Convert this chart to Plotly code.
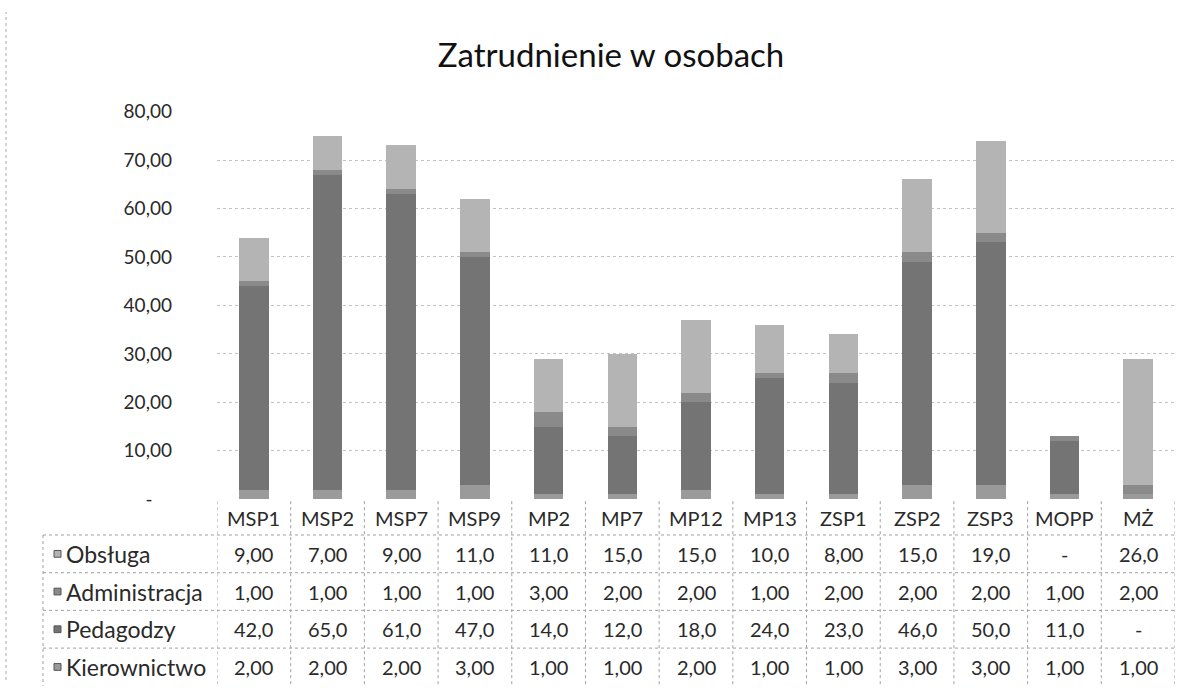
import plotly.graph_objects as go

# ---- data ----
categories = ["MSP1", "MSP2", "MSP7", "MSP9", "MP2", "MP7", "MP12", "MP13",
              "ZSP1", "ZSP2", "ZSP3", "MOPP", "MŻ"]
kierownictwo = [2, 2, 2, 3, 1, 1, 2, 1, 1, 3, 3, 1, 1]
pedagodzy = [42, 65, 61, 47, 14, 12, 18, 24, 23, 46, 50, 11, 0]
administracja = [1, 1, 1, 1, 3, 2, 2, 1, 2, 2, 2, 1, 2]
obsluga = [9, 7, 9, 11, 11, 15, 15, 10, 8, 15, 19, 0, 26]
y_ticks = [0, 10, 20, 30, 40, 50, 60, 70, 80]
title_text = "Zatrudnienie w osobach"

COL_K = "#9a9a9a"
COL_P = "#747474"
COL_A = "#8a8a8a"
COL_O = "#b4b4b4"

# stacking order bottom -> top
series = [
    ("Kierownictwo", kierownictwo, COL_K),
    ("Pedagodzy", pedagodzy, COL_P),
    ("Administracja", administracja, COL_A),
    ("Obsługa", obsluga, COL_O),
]

W, H = 1192, 691
FONT = "Lato"
TXT = "#2a2a2a"


def px_x(p):
    return p / W


def px_y(p):
    return 1 - p / H


def fmt(v):
    if v == 0:
        return "-"
    s = f"{v:.1f}" if v >= 10 else f"{v:.2f}"
    return s.replace(".", ",")


def ytick(v):
    return "-\u00a0\u00a0\u00a0\u00a0" if v == 0 else f"{v:.2f}".replace(".", ",")


fig = go.Figure()
for name, vals, col in series:
    fig.add_trace(go.Bar(
        x=categories, y=vals, name=name,
        marker=dict(color=col, line=dict(width=0)),
        showlegend=False,
    ))

plot_left, plot_right = 217, 1175
y0_px, y80_px = 504, 103

fig.update_layout(
    width=W, height=H,
    margin=dict(l=0, r=0, t=0, b=0),
    paper_bgcolor="white", plot_bgcolor="white",
    barmode="stack", bargap=0.6,
    font=dict(family=FONT, color=TXT, size=20),
    xaxis=dict(domain=[px_x(plot_left), px_x(plot_right)],
               range=[-0.5, len(categories) - 0.5],
               showticklabels=False, showgrid=False, zeroline=False,
               showline=False, ticks=""),
    yaxis=dict(domain=[px_y(y0_px), px_y(y80_px)], range=[0, 80],
               tickvals=y_ticks, ticktext=[ytick(v) for v in y_ticks],
               showgrid=True, gridcolor="#c2c2c2", griddash="dot", gridwidth=1,
               zeroline=False, showline=False, ticks="",
               ticklabelstandoff=44,
               tickfont=dict(family=FONT, size=19, color=TXT)),
    title=dict(text=title_text, x=611 / W, xanchor="center",
               y=px_y(55), yanchor="middle",
               font=dict(family=FONT, size=33, color="#111")),
)

# ---- data table under the chart ----
header_y = 523
row_tops = [541, 580, 619, 658]
row_h = 39
table_bottom = 697
rows = [("Obsługa", obsluga, COL_O),
        ("Administracja", administracja, COL_A),
        ("Pedagodzy", pedagodzy, COL_P),
        ("Kierownictwo", kierownictwo, COL_K)]

line_style = dict(color="#a0a0a0", width=1, dash="dot")
n = len(categories)

# category headers
for i, c in enumerate(categories):
    fig.add_annotation(x=i, xref="x", y=px_y(header_y), yref="paper",
                       text=c, showarrow=False, xanchor="center", yanchor="middle",
                       font=dict(family=FONT, size=20, color=TXT))

# horizontal borders
for t in row_tops:
    fig.add_shape(type="line", xref="paper", yref="paper",
                  x0=px_x(43), x1=px_x(plot_right), y0=px_y(t), y1=px_y(t),
                  line=line_style)
# vertical borders between category columns
for k in range(n + 1):
    fig.add_shape(type="line", xref="x", yref="paper",
                  x0=k - 0.5, x1=k - 0.5, y0=px_y(506), y1=px_y(table_bottom),
                  line=line_style)
# left border of the label column
fig.add_shape(type="line", xref="paper", yref="paper",
              x0=px_x(43), x1=px_x(43), y0=px_y(row_tops[0]), y1=px_y(table_bottom),
              line=line_style)

for r, (label, vals, col) in enumerate(rows):
    cy = row_tops[r] + row_h / 2
    # legend key
    fig.add_shape(type="rect", xref="paper", yref="paper",
                  x0=px_x(54), x1=px_x(61), y0=px_y(cy - 3.5), y1=px_y(cy + 3.5),
                  fillcolor=col, line=dict(color="#555", width=1))
    fig.add_annotation(x=px_x(64), xref="paper", y=px_y(cy), yref="paper",
                       text=label, showarrow=False, xanchor="left", yanchor="middle",
                       font=dict(family=FONT, size=23, color=TXT))
    for i, v in enumerate(vals):
        fig.add_annotation(x=i, xref="x", y=px_y(cy), yref="paper",
                           text=fmt(v), showarrow=False, xanchor="center",
                           yanchor="middle",
                           font=dict(family=FONT, size=20, color=TXT))

# scanned page border on the left
fig.add_shape(type="line", xref="paper", yref="paper",
              x0=px_x(6), x1=px_x(6), y0=0, y1=1,
              line=dict(color="#aaaaaa", width=1, dash="dot"))

fig.write_html(
    "out.html",
    config={"displayModeBar": False},
    post_script="document.body.style.margin='0';document.body.style.overflow='hidden';",
)
